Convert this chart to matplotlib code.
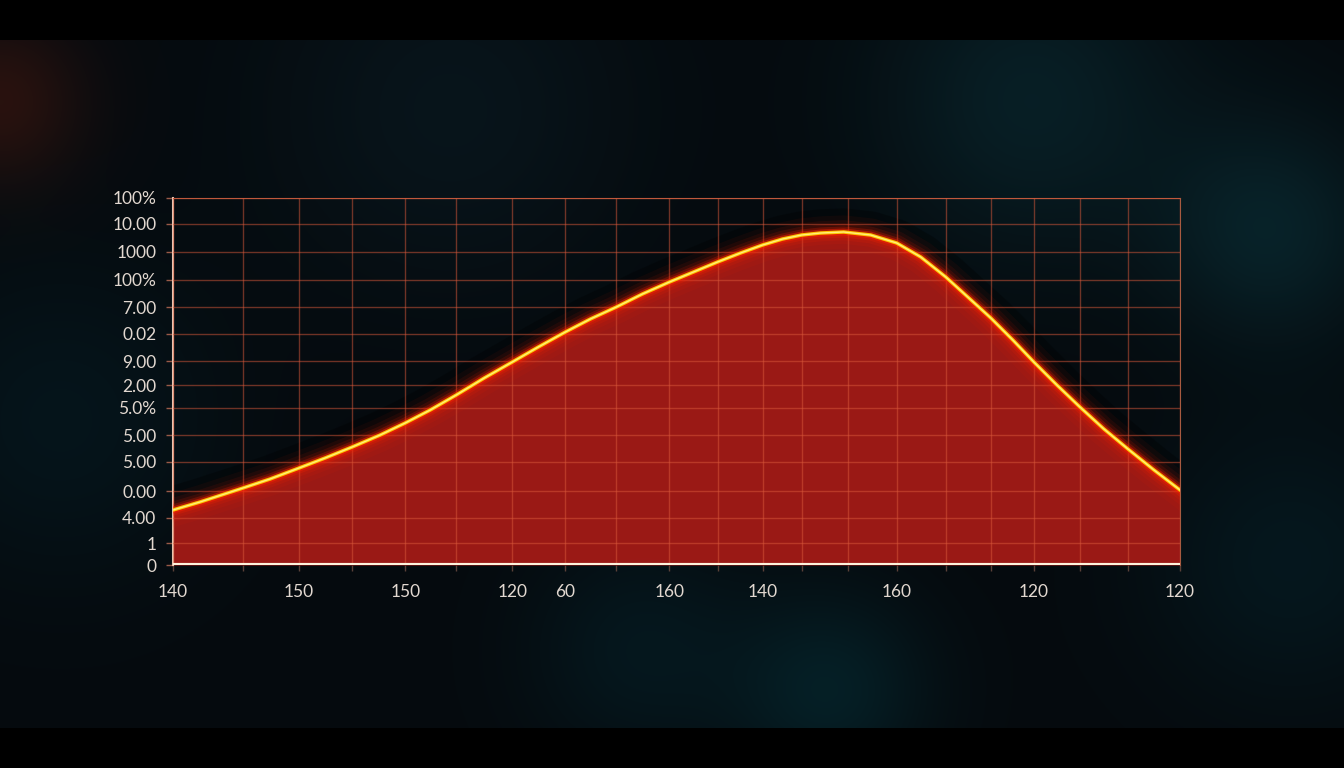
import matplotlib
matplotlib.use("Agg")
import matplotlib.pyplot as plt
import numpy as np

# curve (x, y in the chart's own units)
curve_x = [0, 27, 70, 97, 126, 152, 179, 207, 232, 257, 283, 311, 339, 365, 392, 417, 443,
           469, 496, 520, 544, 567, 589, 609, 628, 647, 670, 697, 723, 747, 772, 794, 817,
           839, 860, 883, 906, 930, 954, 980, 1006]
curve_y = [55, 63, 77, 86, 97, 107, 118, 130, 142, 155, 170, 187, 203, 218, 233, 246, 258,
           271, 283, 293, 303, 312, 320, 326, 330, 332, 333, 330, 322, 308, 288, 268, 247,
           225, 203, 180, 158, 136, 116, 95, 75]

# gridlines and tick labels as printed on the chart
x_grid = [0, 70, 126, 179, 232, 283, 339, 392, 443, 496, 544, 589, 628, 674, 723, 772, 817, 860, 906, 954, 1006]
x_ticks = [0, 126, 232, 339, 392, 496, 589, 723, 860, 1006]
x_labels = ["140", "150", "150", "120", "60", "160", "140", "160", "120", "120"]
y_ticks = [367, 341, 313, 285, 258, 231, 204, 180, 157, 130, 103, 74, 47, 22, 0]
y_labels = ["100%", "10.00", "1000", "100%", "7.00", "0.02", "9.00", "2.00",
            "5.0%", "5.00", "5.00", "0.00", "4.00", "1", "0"]

W, H = 1344, 768
fig = plt.figure(figsize=(W / 100, H / 100), dpi=100)
fig.patch.set_facecolor("black")

# blurred backdrop
bg_ax = fig.add_axes([0, 0, 1, 1])
bg_ax.set_axis_off()
yy, xx = np.mgrid[0:H, 0:W]
img = np.zeros((H, W, 3))
img[:] = (0.02, 0.04, 0.055)
blobs = [  # (cx, cy, radius, rgb)
    (1030, 100, 110, (0.01, 0.08, 0.09)),
    (1270, 230, 80, (0.01, 0.09, 0.10)),
    (830, 690, 70, (0.0, 0.08, 0.09)),
    (640, 650, 80, (0.0, 0.05, 0.06)),
    (450, 110, 130, (0.01, 0.04, 0.05)),
    (1290, 560, 100, (0.0, 0.05, 0.06)),
    (60, 420, 110, (0.0, 0.04, 0.05)),
    (0, 100, 60, (0.14, 0.03, 0.0)),
]
for cx, cy, r, c in blobs:
    g = np.exp(-((xx - cx) ** 2 + (yy - cy) ** 2) / (2 * r ** 2))
    for k in range(3):
        img[:, :, k] += c[k] * g
img[:40] = 0
img[728:] = 0
bg_ax.imshow(np.clip(img, 0, 1), extent=[0, W, H, 0], aspect="auto")
bg_ax.set_xlim(0, W)
bg_ax.set_ylim(H, 0)

ax = fig.add_axes([173 / W, (H - 565) / H, 1007 / W, 367 / H])
ax.patch.set_alpha(0)
ax.set_xlim(0, 1006)
ax.set_ylim(0, 367)

# dark halo above the curve, then the fill
ax.plot(curve_x, curve_y, color="black", lw=34, alpha=0.3, zorder=1)
ax.fill_between(curve_x, 0, curve_y, color="#a01a16", alpha=0.97, lw=0, zorder=2)

for gx in x_grid:
    ax.axvline(gx, color="#d8583a", lw=1, alpha=0.5, zorder=3)
for gy in y_ticks:
    ax.axhline(gy, color="#d8583a", lw=1, alpha=0.5, zorder=3)

# glow
for lw, a in [(24, 0.05), (17, 0.08), (12, 0.12), (8, 0.22), (5, 0.45)]:
    ax.plot(curve_x, curve_y, color="#ff2200", lw=lw, alpha=a, zorder=4)
ax.plot(curve_x, curve_y, color="#ffc400", lw=2.5, zorder=5)
ax.plot(curve_x, curve_y, color="#fff07a", lw=1, zorder=6)

ax.axhline(0, color="#fff2dc", lw=3, zorder=7)

ax.set_xticks(x_ticks)
ax.set_xticklabels(x_labels)
ax.set_xticks(x_grid, minor=True)
ax.set_yticks(y_ticks)
ax.set_yticklabels(y_labels)

for lab in ax.get_xticklabels() + ax.get_yticklabels():
    lab.set_fontfamily("Lato")
    lab.set_fontsize(12.5)
    lab.set_color("#e2d8d0")
ax.tick_params(axis="y", length=5, width=1, color="#9a5a48", pad=7)
ax.tick_params(axis="x", which="both", length=4, width=1, color="#5a4038", pad=10)

ax.spines["left"].set_color("#e8c4b0")
ax.spines["left"].set_linewidth(1.5)
ax.spines["top"].set_color("#a85a40")
ax.spines["right"].set_color("#a85a40")
ax.spines["bottom"].set_visible(False)

fig.savefig("out.png", dpi=100, facecolor=fig.get_facecolor())
